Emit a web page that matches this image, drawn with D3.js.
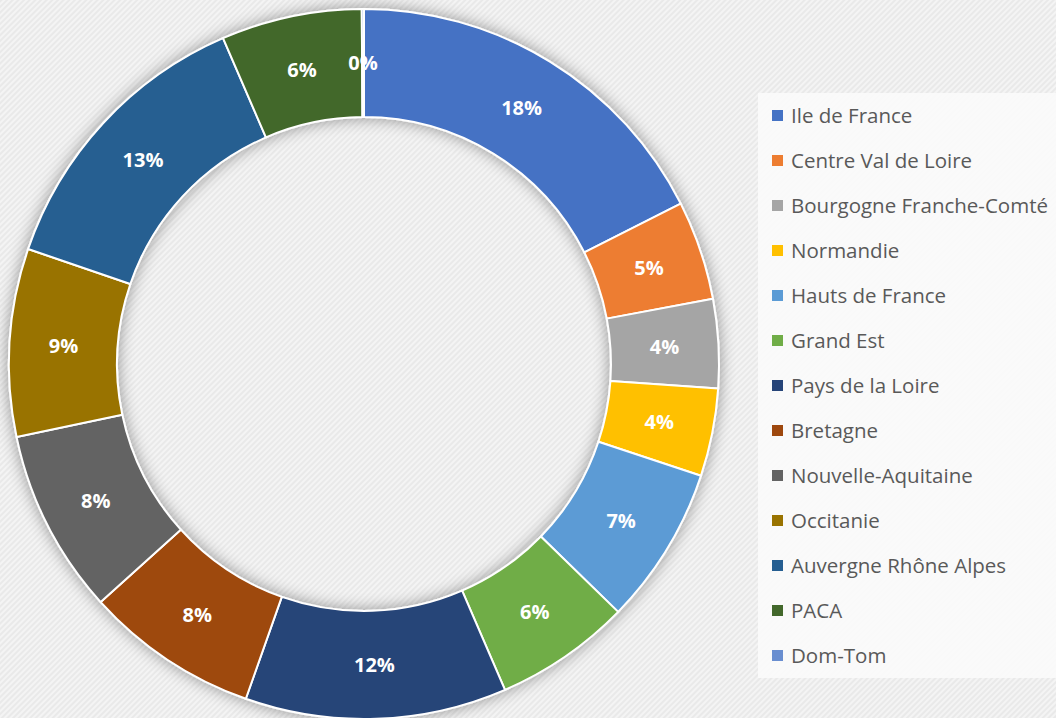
<!DOCTYPE html>
<html><head><meta charset="utf-8">
<script src="https://cdn.jsdelivr.net/npm/d3@7"></script>
<style>html,body{margin:0;padding:0;background:#f1f1f1;overflow:hidden}</style>
</head><body>
<svg id="chart" width="1056" height="718"></svg>
<script>
const categories = ["Ile de France","Centre Val de Loire","Bourgogne Franche-Comté","Normandie","Hauts de France","Grand Est","Pays de la Loire","Bretagne","Nouvelle-Aquitaine","Occitanie","Auvergne Rhône Alpes","PACA","Dom-Tom"];
const values = [17.54,4.52,4.04,4.0,7.2,6.2,11.9,7.9,8.4,8.55,13.25,6.4,0.1];
const colors = ["#4472C4","#ED7D31","#A5A5A5","#FFC000","#5B9BD5","#70AD47","#264478","#9E480E","#636363","#997300","#255E91","#43682B","#698ED0"];

const svg = d3.select("#chart");
const defs = svg.append("defs");
const pat = defs.append("pattern").attr("id","hatch").attr("patternUnits","userSpaceOnUse")
  .attr("width",4).attr("height",4).attr("patternTransform","rotate(45)");
pat.append("rect").attr("width",4).attr("height",4).attr("fill","#f4f4f4");
pat.append("rect").attr("width",2).attr("height",4).attr("fill","#e9e9e9");
const f = defs.append("filter").attr("id","shadow").attr("x","-20%").attr("y","-20%").attr("width","140%").attr("height","140%");
f.append("feGaussianBlur").attr("in","SourceAlpha").attr("stdDeviation",8).attr("result","b");
f.append("feComponentTransfer").attr("in","b").attr("result","b2")
  .append("feFuncA").attr("type","linear").attr("slope",0.4);
const m = f.append("feMerge");
m.append("feMergeNode").attr("in","b2");
m.append("feMergeNode").attr("in","SourceGraphic");

svg.append("rect").attr("width",1056).attr("height",718).attr("fill","url(#hatch)");

const cx = 364, cy = 364, R = 355, r = 247;
const total = d3.sum(values);
const data = categories.map((c,i)=>({cat:c, value:values[i], color:colors[i]}));
const pie = d3.pie().value(d=>d.value).sort(null);
const arc = d3.arc().innerRadius(r).outerRadius(R);
const g = svg.append("g").attr("transform",`translate(${cx},${cy})`);
const arcs = pie(data);
g.append("g").attr("filter","url(#shadow)")
 .selectAll("path").data(arcs).join("path")
 .attr("d",arc).attr("fill",d=>d.data.color)
 .attr("stroke","#ffffff").attr("stroke-width",2).attr("stroke-linejoin","round");
const fmt = d3.format(".0%");
g.selectAll("text.lbl").data(arcs).join("text").attr("class","lbl")
 .attr("transform",d=>`translate(${arc.centroid(d)})`)
 .attr("text-anchor","middle").attr("dy","0.36em")
 .attr("font-family","'Open Sans', sans-serif").attr("font-weight","bold").attr("font-size",20)
 .attr("fill","#ffffff")
 .text(d=>fmt(d.data.value/total));

// legend
const lg = svg.append("g");
lg.append("rect").attr("x",758).attr("y",93).attr("width",298).attr("height",585).attr("fill","#fbfbfb").attr("opacity",0.9);
const y = d3.scalePoint().domain(categories).range([116,656]);
const item = lg.selectAll("g.item").data(data).join("g").attr("class","item")
 .attr("transform",d=>`translate(0,${y(d.cat)})`);
item.append("rect").attr("x",772).attr("y",-6).attr("width",11).attr("height",11).attr("fill",d=>d.color);
item.append("text").attr("x",791).attr("dy","0.35em")
 .attr("font-family","'Open Sans', sans-serif").attr("font-size",20.5).attr("fill","#595959")
 .text(d=>d.cat);
</script>
</body></html>
